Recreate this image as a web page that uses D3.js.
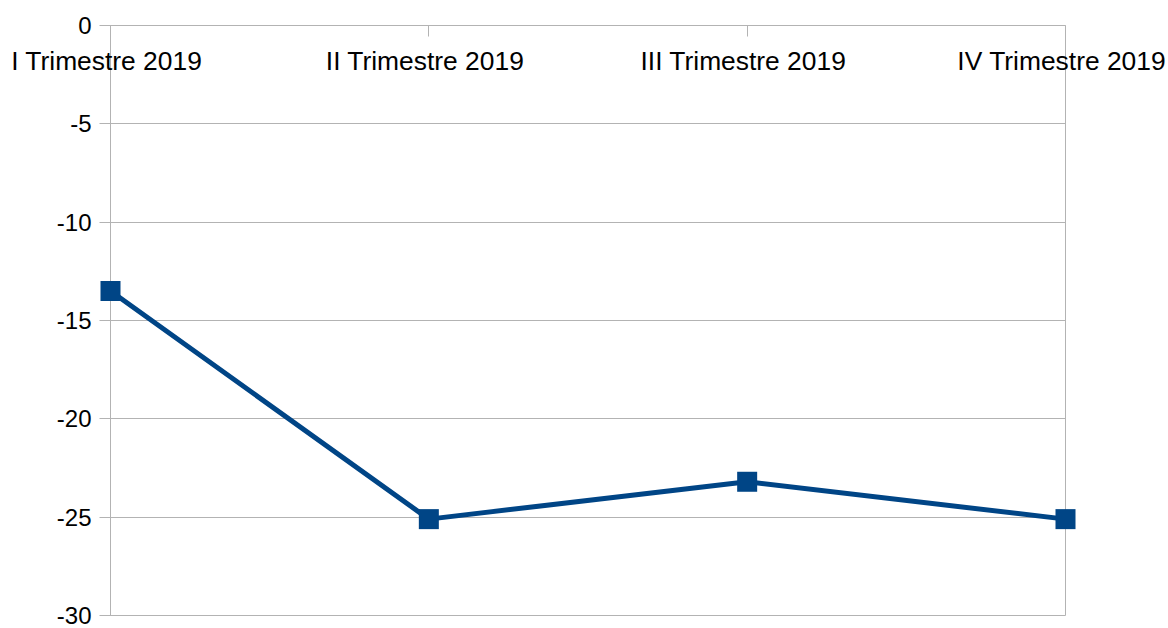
<!DOCTYPE html>
<html>
<head>
<meta charset="utf-8">
<script src="https://cdn.jsdelivr.net/npm/d3@7"></script>
<style>
  body { margin: 0; background: #fff; }
  svg { display: block; font-family: "Liberation Sans", Arial, sans-serif; }
</style>
</head>
<body>
<svg id="chart" width="1168" height="628"></svg>
<script>
const categories = ["I Trimestre 2019", "II Trimestre 2019", "III Trimestre 2019", "IV Trimestre 2019"];
const values = [-13.5, -25.1, -23.2, -25.1];
const yTicks = [0, -5, -10, -15, -20, -25, -30];

const svg = d3.select("#chart");
const margin = { top: 25.5, right: 102.5, bottom: 12.5, left: 110.5 };
const W = 1168, H = 628;
const innerW = W - margin.left - margin.right;
const innerH = H - margin.top - margin.bottom;

const g = svg.append("g").attr("transform", `translate(${margin.left},${margin.top})`);

const x = d3.scalePoint().domain(categories).range([0, innerW]).padding(0);
const y = d3.scaleLinear().domain([-30, 0]).range([innerH, 0]);

// horizontal gridlines + y ticks
g.selectAll(".grid")
  .data(yTicks)
  .join("line")
  .attr("x1", -11)
  .attr("x2", innerW)
  .attr("y1", d => Math.round(y(d)))
  .attr("y2", d => Math.round(y(d)))
  .attr("stroke", "#b3b3b3")
  .attr("stroke-width", 1);

g.selectAll(".ylab")
  .data(yTicks)
  .join("text")
  .attr("x", -19)
  .attr("y", d => y(d))
  .attr("dy", "0.36em")
  .attr("text-anchor", "end")
  .attr("font-size", 24)
  .attr("fill", "#000")
  .text(d => d);

// left and right border
g.append("line").attr("x1", 0).attr("x2", 0).attr("y1", 0).attr("y2", innerH)
  .attr("stroke", "#b3b3b3");
g.append("line").attr("x1", innerW).attr("x2", innerW).attr("y1", 0).attr("y2", innerH)
  .attr("stroke", "#b3b3b3");

// category ticks at top axis (y = 0)
g.selectAll(".xtick")
  .data(categories)
  .join("line")
  .attr("x1", d => Math.round(x(d)))
  .attr("x2", d => Math.round(x(d)))
  .attr("y1", 0)
  .attr("y2", 11)
  .attr("stroke", "#b3b3b3");

g.selectAll(".xlab")
  .data(categories)
  .join("text")
  .attr("x", d => x(d) - 4)
  .attr("y", 35)
  .attr("dy", "0.36em")
  .attr("text-anchor", "middle")
  .attr("font-size", 26.4)
  .attr("fill", "#000")
  .text(d => d);

// line
const line = d3.line()
  .x((d, i) => x(categories[i]))
  .y(d => y(d));

g.append("path")
  .datum(values)
  .attr("d", line)
  .attr("fill", "none")
  .attr("stroke", "#004586")
  .attr("stroke-width", 5)
  .attr("stroke-linejoin", "round");

const ms = 20;
g.selectAll(".mark")
  .data(values)
  .join("rect")
  .attr("x", (d, i) => x(categories[i]) - ms / 2)
  .attr("y", d => y(d) - ms / 2)
  .attr("width", ms)
  .attr("height", ms)
  .attr("fill", "#004586");
</script>
</body>
</html>
